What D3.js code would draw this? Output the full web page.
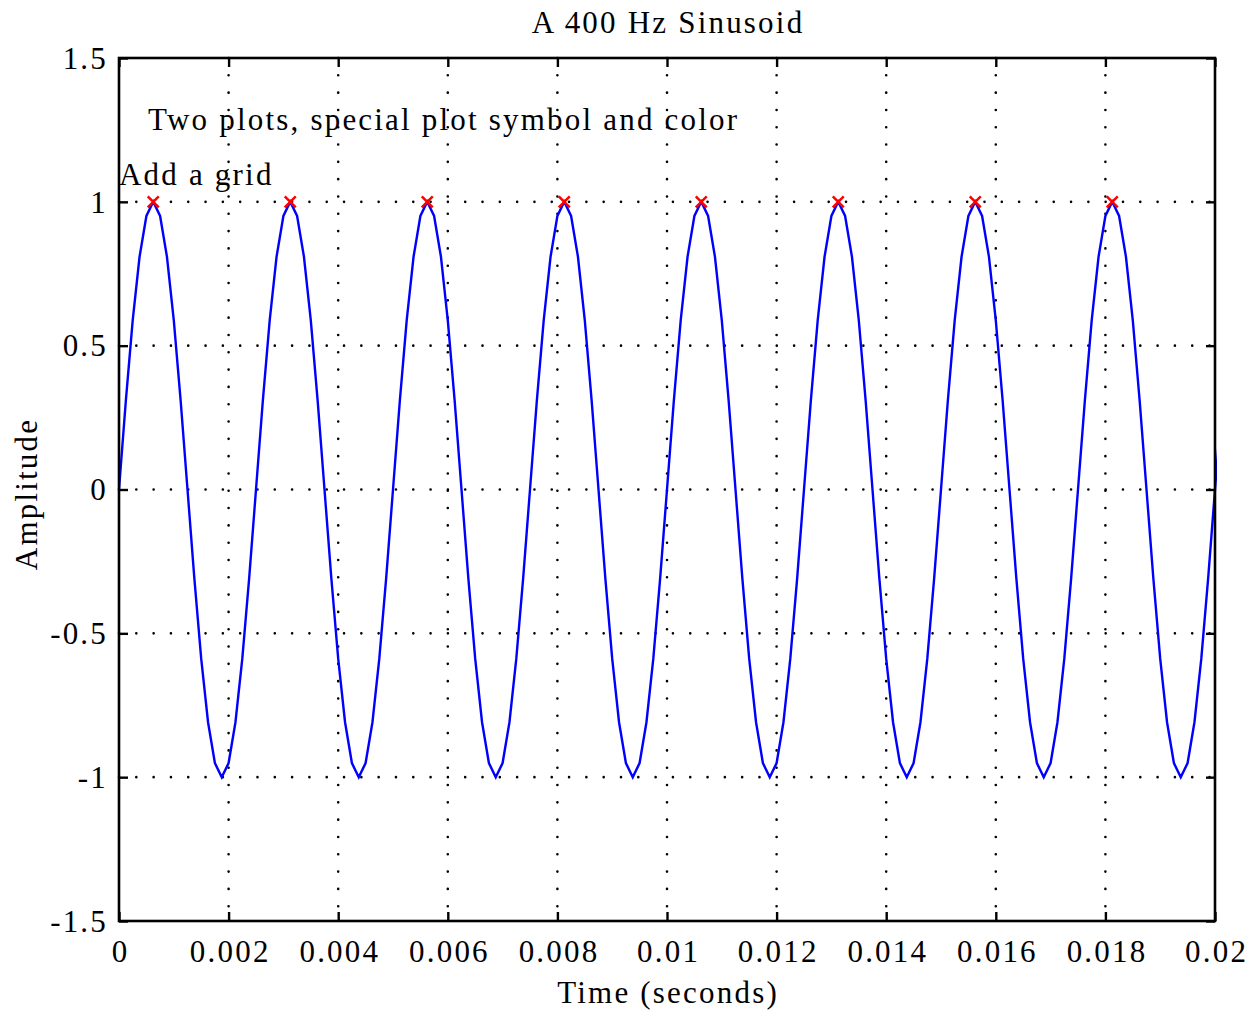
<!DOCTYPE html>
<html>
<head>
<meta charset="utf-8">
<script src="https://cdn.jsdelivr.net/npm/d3@7"></script>
<style>
  html, body { margin: 0; padding: 0; background: #fff; }
  svg { display: block; }
  text { font-family: "Liberation Serif", "Times New Roman", serif; fill: #000; letter-spacing: 2.2px; }
</style>
</head>
<body>
<svg id="chart" width="1251" height="1010"></svg>
<script>
// Sample times (seconds), 8 kHz sampling
const sampleTimes = [
  0, 0.000125, 0.00025, 0.000375, 0.0005, 0.000625, 0.00075, 0.000875, 0.001, 0.001125, 0.00125, 0.001375, 0.0015, 0.001625, 0.00175, 0.001875, 0.002, 0.002125, 0.00225, 0.002375,
  0.0025, 0.002625, 0.00275, 0.002875, 0.003, 0.003125, 0.00325, 0.003375, 0.0035, 0.003625, 0.00375, 0.003875, 0.004, 0.004125, 0.00425, 0.004375, 0.0045, 0.004625, 0.00475, 0.004875,
  0.005, 0.005125, 0.00525, 0.005375, 0.0055, 0.005625, 0.00575, 0.005875, 0.006, 0.006125, 0.00625, 0.006375, 0.0065, 0.006625, 0.00675, 0.006875, 0.007, 0.007125, 0.00725, 0.007375,
  0.0075, 0.007625, 0.00775, 0.007875, 0.008, 0.008125, 0.00825, 0.008375, 0.0085, 0.008625, 0.00875, 0.008875, 0.009, 0.009125, 0.00925, 0.009375, 0.0095, 0.009625, 0.00975, 0.009875,
  0.01, 0.010125, 0.01025, 0.010375, 0.0105, 0.010625, 0.01075, 0.010875, 0.011, 0.011125, 0.01125, 0.011375, 0.0115, 0.011625, 0.01175, 0.011875, 0.012, 0.012125, 0.01225, 0.012375,
  0.0125, 0.012625, 0.01275, 0.012875, 0.013, 0.013125, 0.01325, 0.013375, 0.0135, 0.013625, 0.01375, 0.013875, 0.014, 0.014125, 0.01425, 0.014375, 0.0145, 0.014625, 0.01475, 0.014875,
  0.015, 0.015125, 0.01525, 0.015375, 0.0155, 0.015625, 0.01575, 0.015875, 0.016, 0.016125, 0.01625, 0.016375, 0.0165, 0.016625, 0.01675, 0.016875, 0.017, 0.017125, 0.01725, 0.017375,
  0.0175, 0.017625, 0.01775, 0.017875, 0.018, 0.018125, 0.01825, 0.018375, 0.0185, 0.018625, 0.01875, 0.018875, 0.019, 0.019125, 0.01925, 0.019375, 0.0195, 0.019625, 0.01975, 0.019875,
  0.02, 0.020125
];

// Sampled amplitude at each time
const amplitudes = [
  0, 0.309, 0.588, 0.809, 0.951, 1, 0.951, 0.809, 0.588, 0.309, 0, -0.309, -0.588, -0.809, -0.951, -1, -0.951, -0.809, -0.588, -0.309,
  0, 0.309, 0.588, 0.809, 0.951, 1, 0.951, 0.809, 0.588, 0.309, 0, -0.309, -0.588, -0.809, -0.951, -1, -0.951, -0.809, -0.588, -0.309,
  0, 0.309, 0.588, 0.809, 0.951, 1, 0.951, 0.809, 0.588, 0.309, 0, -0.309, -0.588, -0.809, -0.951, -1, -0.951, -0.809, -0.588, -0.309,
  0, 0.309, 0.588, 0.809, 0.951, 1, 0.951, 0.809, 0.588, 0.309, 0, -0.309, -0.588, -0.809, -0.951, -1, -0.951, -0.809, -0.588, -0.309,
  0, 0.309, 0.588, 0.809, 0.951, 1, 0.951, 0.809, 0.588, 0.309, 0, -0.309, -0.588, -0.809, -0.951, -1, -0.951, -0.809, -0.588, -0.309,
  0, 0.309, 0.588, 0.809, 0.951, 1, 0.951, 0.809, 0.588, 0.309, 0, -0.309, -0.588, -0.809, -0.951, -1, -0.951, -0.809, -0.588, -0.309,
  0, 0.309, 0.588, 0.809, 0.951, 1, 0.951, 0.809, 0.588, 0.309, 0, -0.309, -0.588, -0.809, -0.951, -1, -0.951, -0.809, -0.588, -0.309,
  0, 0.309, 0.588, 0.809, 0.951, 1, 0.951, 0.809, 0.588, 0.309, 0, -0.309, -0.588, -0.809, -0.951, -1, -0.951, -0.809, -0.588, -0.309,
  0, 0.309
];

// Peak markers
const peakTimes = [0.000625, 0.003125, 0.005625, 0.008125, 0.010625, 0.013125, 0.015625, 0.018125];
const peakValues = [1, 1, 1, 1, 1, 1, 1, 1];

// Axis ticks
const xTicks = [0, 0.002, 0.004, 0.006, 0.008, 0.01, 0.012, 0.014, 0.016, 0.018, 0.02];
const xTickLabels = ["0", "0.002", "0.004", "0.006", "0.008", "0.01", "0.012", "0.014", "0.016", "0.018", "0.02"];
const yTicks = [-1.5, -1, -0.5, 0, 0.5, 1, 1.5];
const yTickLabels = ["-1.5", "-1", "-0.5", "0", "0.5", "1", "1.5"];

const titleText = "A 400 Hz Sinusoid";
const xLabelText = "Time (seconds)";
const yLabelText = "Amplitude";
const notes = [
  { t: 0.00053, v: 1.25, text: "Two plots, special plot symbol and color" },
  { t: 0.0, v: 1.06, text: "Add a grid" }
];

const W = 1251, H = 1010;
const margin = { top: 58, right: 36, bottom: 89, left: 119 };
const iw = W - margin.left - margin.right;
const ih = H - margin.top - margin.bottom;
const fontSize = 31;
const tickLen = 9;
const ls = 2.2; // letter spacing, used to re-centre middle-anchored text

const svg = d3.select("#chart");
const g = svg.append("g").attr("transform", `translate(${margin.left},${margin.top})`);

const x = d3.scaleLinear().domain([0, 0.02]).range([0, iw]);
const y = d3.scaleLinear().domain([-1.5, 1.5]).range([ih, 0]);

// Dotted grid
const dotStyle = s => s.attr("stroke", "#000").attr("stroke-width", 2.6)
  .attr("stroke-linecap", "round").attr("stroke-dasharray", "0.01 17.3").attr("fill", "none");

g.append("g").selectAll("line").data(xTicks.slice(1, -1)).join("line")
  .attr("x1", d => x(d)).attr("x2", d => x(d)).attr("y1", 0).attr("y2", ih).call(dotStyle);
g.append("g").selectAll("line").data(yTicks.slice(1, -1)).join("line")
  .attr("x1", 0).attr("x2", iw).attr("y1", d => y(d)).attr("y2", d => y(d)).call(dotStyle);

// Signal line
svg.append("defs").append("clipPath").attr("id", "plotClip")
  .append("rect").attr("x", -2).attr("y", -2).attr("width", iw + 4).attr("height", ih + 4);

const line = d3.line().x((d, i) => x(sampleTimes[i])).y(d => y(d));
g.append("path").datum(amplitudes)
  .attr("clip-path", "url(#plotClip)")
  .attr("d", line)
  .attr("fill", "none").attr("stroke", "#0000ff").attr("stroke-width", 2.4)
  .attr("stroke-linejoin", "miter");

// Peak markers (x symbols)
const ms = 5.5;
g.append("g").selectAll("path").data(peakTimes).join("path")
  .attr("d", (d, i) => {
    const cx = x(d), cy = y(peakValues[i]);
    return `M${cx - ms},${cy - ms}L${cx + ms},${cy + ms}M${cx - ms},${cy + ms}L${cx + ms},${cy - ms}`;
  })
  .attr("stroke", "#ff0000").attr("stroke-width", 2.5).attr("fill", "none");

// Axes with inward ticks on all four sides
const styleAxis = a => {
  a.selectAll(".domain").remove();
  a.selectAll(".tick line").attr("stroke", "#000").attr("stroke-width", 2.4);
  a.selectAll("text").style("font-family", '"Liberation Serif", serif').style("font-size", fontSize + "px").attr("fill", "#000");
};

const xAxisB = g.append("g").attr("transform", `translate(0,${ih})`)
  .call(d3.axisBottom(x).tickValues(xTicks).tickFormat((d, i) => xTickLabels[i]).tickSizeInner(-tickLen));
xAxisB.call(styleAxis);
xAxisB.selectAll("text").attr("x", ls / 2).attr("y", 0).attr("dy", "1.32em");

const xAxisT = g.append("g")
  .call(d3.axisTop(x).tickValues(xTicks).tickFormat("").tickSizeInner(-tickLen));
xAxisT.call(styleAxis);

const yAxisL = g.append("g")
  .call(d3.axisLeft(y).tickValues(yTicks).tickFormat((d, i) => yTickLabels[i]).tickSizeInner(-tickLen));
yAxisL.call(styleAxis);
yAxisL.selectAll("text").attr("x", -11).attr("dy", "0.33em");

const yAxisR = g.append("g").attr("transform", `translate(${iw},0)`)
  .call(d3.axisRight(y).tickValues(yTicks).tickFormat("").tickSizeInner(-tickLen));
yAxisR.call(styleAxis);

// Box
g.append("rect").attr("x", 0).attr("y", 0).attr("width", iw).attr("height", ih)
  .attr("fill", "none").attr("stroke", "#000").attr("stroke-width", 2.6);

// Annotations
g.append("g").selectAll("text").data(notes).join("text")
  .attr("x", d => x(d.t)).attr("y", d => y(d.v))
  .style("font-size", fontSize + "px")
  .text(d => d.text);

// Title and labels
svg.append("text").attr("x", margin.left + iw / 2 + ls / 2).attr("y", 33)
  .attr("text-anchor", "middle").style("font-size", fontSize + "px").text(titleText);
svg.append("text").attr("x", margin.left + iw / 2 + ls / 2).attr("y", 1003)
  .attr("text-anchor", "middle").style("font-size", fontSize + "px").text(xLabelText);
svg.append("text").attr("transform", `translate(37,494) rotate(-90)`)
  .attr("text-anchor", "middle").style("font-size", fontSize + "px").text(yLabelText);
</script>
</body>
</html>
